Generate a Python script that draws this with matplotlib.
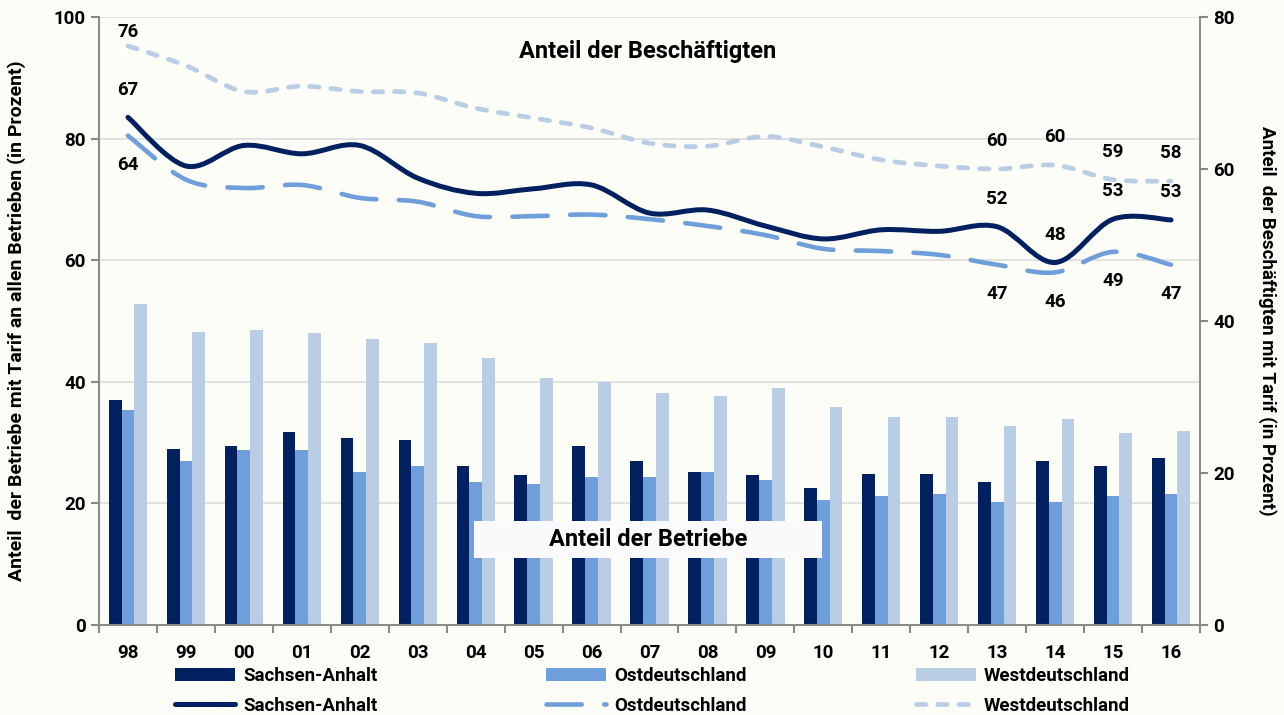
# Tarifbindung: Betriebe (Balken) und Beschäftigte (geglättete Linien)
import numpy as np
import matplotlib.pyplot as plt
from matplotlib.path import Path
from matplotlib.patches import PathPatch, Rectangle, Patch
from matplotlib.lines import Line2D

jahre = ['98', '99', '00', '01', '02', '03', '04', '05', '06', '07',
         '08', '09', '10', '11', '12', '13', '14', '15', '16']

# Anteil der Betriebe mit Tarif (linke Achse)
betriebe_sa = [37.0, 28.9, 29.5, 31.8, 30.7, 30.4, 26.1, 24.6, 29.5, 26.9,
               25.2, 24.6, 22.6, 24.9, 24.9, 23.5, 26.9, 26.1, 27.5]
betriebe_ost = [35.4, 27.0, 28.7, 28.7, 25.2, 26.1, 23.5, 23.2, 24.3, 24.3,
                25.2, 23.8, 20.6, 21.2, 21.5, 20.3, 20.3, 21.2, 21.5]
betriebe_west = [52.8, 48.2, 48.5, 48.0, 47.1, 46.3, 43.9, 40.7, 39.9, 38.2,
                 37.6, 39.0, 35.9, 34.2, 34.2, 32.7, 33.9, 31.6, 31.9]

# Anteil der Beschäftigten mit Tarif (rechte Achse)
besch_sa = [66.8, 60.4, 63.1, 62.0, 63.1, 58.8, 56.8, 57.4, 57.9, 54.2,
            54.6, 52.5, 50.8, 52.0, 51.8, 52.4, 47.7, 53.4, 53.3]
besch_ost = [64.4, 58.6, 57.5, 57.9, 56.2, 55.7, 53.8, 53.8, 54.0, 53.4,
             52.5, 51.3, 49.5, 49.2, 48.7, 47.4, 46.4, 49.1, 47.4]
besch_west = [76.2, 73.6, 70.2, 70.9, 70.2, 70.0, 68.0, 66.7, 65.4, 63.4,
              63.0, 64.3, 62.9, 61.2, 60.4, 60.0, 60.5, 58.6, 58.4]

# Jahre mit Wertbeschriftung an den Linien
beschriftet = [0, 15, 16, 17, 18]

c_sa = '#002060'
c_ost = '#6e9fdb'
c_west = '#b9cde5'
bg = '#fdfdf7'

stil_sa = ('solid', 3.6)
stil_ost = ((0, (7.7, 4.9)), 3.3)
stil_west = ((0, (2.0, 2.5)), 3.4)


def glatte_kurve(xs, ys):
    # kubische Bezier-Segmente wie bei Excel "Linie glätten"
    p = list(zip(xs, ys))
    n = len(p)
    verts = [p[0]]
    codes = [Path.MOVETO]
    for i in range(n - 1):
        p0 = p[i - 1] if i > 0 else p[i]
        p1, p2 = p[i], p[i + 1]
        p3 = p[i + 2] if i + 2 < n else p[i + 1]
        c1 = (p1[0] + (p2[0] - p0[0]) / 6, p1[1] + (p2[1] - p0[1]) / 6)
        c2 = (p2[0] - (p3[0] - p1[0]) / 6, p2[1] - (p3[1] - p1[1]) / 6)
        verts += [c1, c2, p2]
        codes += [Path.CURVE4] * 3
    return Path(verts, codes)


plt.rcParams['font.family'] = ['Roboto', 'DejaVu Sans']
plt.rcParams['font.weight'] = 'bold'
plt.rcParams['axes.labelweight'] = 'bold'

fig = plt.figure(figsize=(12.84, 7.15), dpi=100, facecolor=bg)
ax = fig.add_axes([0.0771, 0.1259, 0.8575, 0.8503])
ax.set_facecolor(bg)
x = np.arange(len(jahre))
w = 0.22

ax.bar(x - w, betriebe_sa, w, color=c_sa, zorder=2)
ax.bar(x, betriebe_ost, w, color=c_ost, zorder=2)
ax.bar(x + w, betriebe_west, w, color=c_west, zorder=2)

ax.set_xlim(-0.5, len(jahre) - 0.5)
ax.set_ylim(0, 100)
ax.set_yticks(range(0, 101, 20))
ax.grid(axis='y', color='#dcdcdc', lw=1.2, zorder=0)
ax.set_xticks(x)
ax.set_xticklabels(jahre, fontweight='bold')
ax.set_xticks(np.arange(-0.5, len(jahre), 1), minor=True)
ax.tick_params(axis='x', which='major', length=0, pad=14, labelsize=13.5)
ax.tick_params(axis='x', which='minor', length=6, color='#888888', width=1.5)
ax.tick_params(axis='y', length=6, color='#888888', width=1.5, labelsize=13.5)
for s in ['top', 'right']:
    ax.spines[s].set_visible(False)
for s in ['left', 'bottom']:
    ax.spines[s].set_color('#8c8c8c')
    ax.spines[s].set_linewidth(1.5)
ax.set_ylabel('Anteil  der Betriebe mit Tarif an allen Betrieben (in Prozent)',
              fontsize=14, fontweight='bold', labelpad=20)

# Kasten für "Anteil der Betriebe"
ax.add_patch(Rectangle((0.3406, 0.110), 0.316, 0.061, transform=ax.transAxes,
                       facecolor='#fafafc', edgecolor='none', zorder=3))
ax.text(0.4986, 0.1405, 'Anteil der Betriebe', transform=ax.transAxes,
        ha='center', va='center', fontsize=17, fontweight='bold', zorder=4)

ax2 = ax.twinx()
ax2.set_ylim(0, 80)
ax2.set_yticks(range(0, 81, 20))
ax2.tick_params(axis='y', length=6, color='#888888', width=1.5, labelsize=13.5)
for s in ['top', 'left', 'bottom']:
    ax2.spines[s].set_visible(False)
ax2.spines['right'].set_color('#8c8c8c')
ax2.spines['right'].set_linewidth(1.5)
ax2.set_ylabel('Anteil  der Beschäftigten mit Tarif (in Prozent)',
               fontsize=13.5, fontweight='bold', rotation=-90, labelpad=30)
for t in ax.get_yticklabels() + ax2.get_yticklabels():
    t.set_fontweight('bold')

for werte, farbe, (stil, lw) in [(besch_west, c_west, stil_west),
                                 (besch_ost, c_ost, stil_ost),
                                 (besch_sa, c_sa, stil_sa)]:
    ax2.add_patch(PathPatch(glatte_kurve(x, werte), fill=False, edgecolor=farbe,
                            lw=lw, linestyle=stil, capstyle='round',
                            joinstyle='round', zorder=3))

for i in beschriftet:
    oben = 10 if i == 0 else 20
    ax2.annotate(f'{besch_west[i]:.0f}', (x[i], besch_west[i]), xytext=(0, oben),
                 textcoords='offset points', ha='center', va='center',
                 fontsize=13.5, fontweight='bold')
    ax2.annotate(f'{besch_sa[i]:.0f}', (x[i], besch_sa[i]), xytext=(0, 20),
                 textcoords='offset points', ha='center', va='center',
                 fontsize=13.5, fontweight='bold')
    ax2.annotate(f'{besch_ost[i]:.0f}', (x[i], besch_ost[i]), xytext=(0, -21),
                 textcoords='offset points', ha='center', va='center',
                 fontsize=13.5, fontweight='bold')

ax2.text(0.4986, 0.943, 'Anteil der Beschäftigten', transform=ax2.transAxes,
         ha='center', va='center', fontsize=17, fontweight='bold')

# Legende: oben Balken, unten Linien, drei Spalten
eintraege = [
    ('Sachsen-Anhalt', c_sa, stil_sa, 0.1363),
    ('Ostdeutschland', c_ost, stil_ost, 0.4252),
    ('Westdeutschland', c_west, stil_west, 0.7134),
]
for name, farbe, (stil, lw), xpos in eintraege:
    handles = [Patch(facecolor=farbe, edgecolor='none'),
               Line2D([], [], color=farbe, lw=lw, linestyle=stil,
                      solid_capstyle='round', dash_capstyle='round')]
    fig.legend(handles, [name, name], loc='upper left',
               bbox_to_anchor=(xpos, 0.067), frameon=False,
               prop={'size': 13.5, 'weight': 'bold'},
               handlelength=3.2, handleheight=0.68, handletextpad=0.43,
               labelspacing=0.62, borderpad=0, borderaxespad=0)

fig.savefig('out.png', dpi=100, facecolor=bg)
